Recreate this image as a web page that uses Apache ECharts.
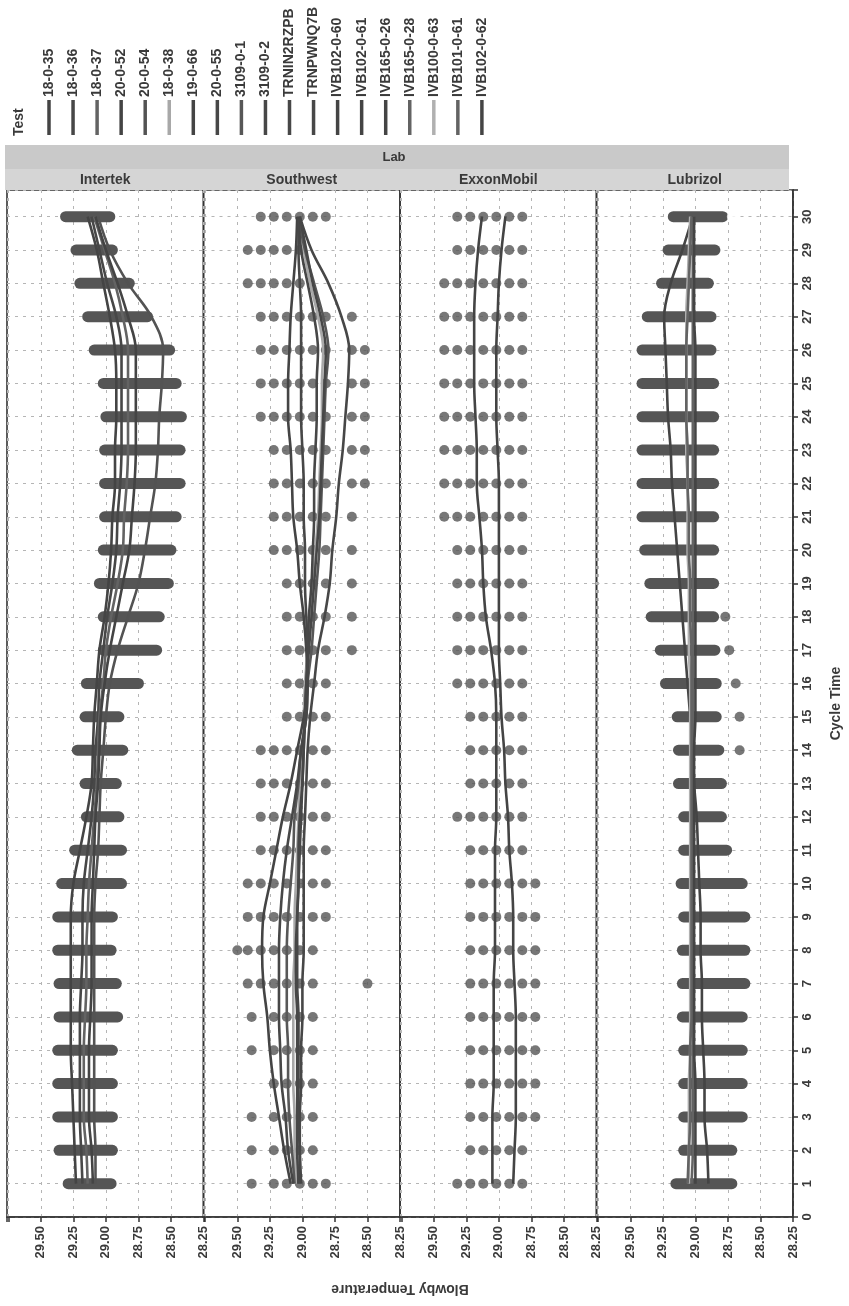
<!DOCTYPE html>
<html><head><meta charset="utf-8">
<script src="https://cdn.jsdelivr.net/npm/echarts@6/dist/echarts.min.js"></script>
<style>html,body{margin:0;padding:0;background:#fff}#c{width:849px;height:1306px}</style>
</head><body><div id="c"></div>
<script>
// ---------------- DATA ----------------
const labs = ['Intertek', 'Southwest', 'ExxonMobil', 'Lubrizol'];
const cycles = [1,2,3,4,5,6,7,8,9,10,11,12,13,14,15,16,17,18,19,20,21,22,23,24,25,26,27,28,29,30];
const tempTicks = [28.25, 28.50, 28.75, 29.00, 29.25, 29.50];
const tests = ['18-0-35','18-0-36','18-0-37','20-0-52','20-0-54','18-0-38','19-0-66','20-0-55','3109-0-1','3109-0-2','TRNIN2RZPB','TRNPWNQ7B','IVB102-0-60','IVB102-0-61','IVB165-0-26','IVB165-0-28','IVB100-0-63','IVB101-0-61','IVB102-0-62'];
const testLab = ['Intertek','Intertek','Intertek','Intertek','Intertek','Southwest','Southwest','Southwest','Southwest','Southwest','Southwest','Southwest','ExxonMobil','ExxonMobil','Lubrizol','Lubrizol','Lubrizol','Lubrizol','Lubrizol'];

// Intertek: dense point spread per cycle (highest / lowest reading)
const intertekHi = [29.29,29.36,29.37,29.37,29.37,29.36,29.36,29.37,29.37,29.34,29.24,29.15,29.16,29.22,29.16,29.15,29.02,29.02,29.05,29.02,29.01,29.01,29.01,29.00,29.02,29.09,29.14,29.20,29.23,29.31];
const intertekLo = [28.96,28.95,28.95,28.95,28.95,28.91,28.92,28.96,28.95,28.88,28.88,28.90,28.92,28.87,28.90,28.75,28.61,28.59,28.52,28.50,28.46,28.43,28.43,28.42,28.46,28.51,28.68,28.82,28.95,28.97];
// Lubrizol: dense point spread per cycle
const lubrizolHi = [29.15,29.09,29.09,29.09,29.09,29.10,29.10,29.10,29.09,29.11,29.09,29.09,29.13,29.13,29.14,29.23,29.27,29.34,29.35,29.39,29.41,29.41,29.41,29.41,29.41,29.41,29.37,29.26,29.21,29.17];
const lubrizolLo = [28.72,28.72,28.64,28.64,28.64,28.64,28.62,28.62,28.62,28.64,28.76,28.80,28.80,28.82,28.84,28.84,28.85,28.86,28.86,28.86,28.86,28.86,28.86,28.86,28.86,28.88,28.88,28.90,28.85,28.79];
const lubrizolExtraCycle = [14,15,16,17,18];
const lubrizolExtraTemp = [28.66,28.66,28.69,28.74,28.77];
const lubrizolOpenCycle = [30];
const lubrizolOpenTemp = [28.72];
const southwestOpenCycle = [15];
const southwestOpenTemp = [29.22];

// Southwest individual readings per cycle (cycle 1 .. 30)
const southwestDots = [
 [29.39,29.22,29.12,29.02,28.92,28.82],
 [29.39,29.22,29.12,29.02,28.92],
 [29.39,29.22,29.12,29.02,28.92],
 [29.22,29.12,29.02,28.92],
 [29.39,29.22,29.12,29.02,28.92],
 [29.39,29.22,29.12,29.02,28.92],
 [29.42,29.32,29.22,29.12,29.02,28.92,28.50],
 [29.50,29.42,29.32,29.22,29.12,29.02,28.92],
 [29.42,29.32,29.22,29.12,29.02,28.92,28.82],
 [29.42,29.32,29.22,29.12,29.02,28.92,28.82],
 [29.32,29.22,29.12,29.02,28.92,28.82],
 [29.32,29.22,29.12,29.02,28.92,28.82],
 [29.32,29.22,29.12,29.02,28.92,28.82],
 [29.32,29.22,29.12,29.02,28.92,28.82],
 [29.12,29.02,28.92,28.82],
 [29.12,29.02,28.92,28.82],
 [29.12,29.02,28.92,28.82,28.62],
 [29.12,29.02,28.92,28.82,28.62],
 [29.12,29.02,28.92,28.82,28.62],
 [29.22,29.12,29.02,28.92,28.82,28.62],
 [29.22,29.12,29.02,28.92,28.82,28.62],
 [29.22,29.12,29.02,28.92,28.82,28.62,28.52],
 [29.22,29.12,29.02,28.92,28.82,28.62,28.52],
 [29.32,29.22,29.12,29.02,28.92,28.82,28.62,28.52],
 [29.32,29.22,29.12,29.02,28.92,28.82,28.62,28.52],
 [29.32,29.22,29.12,29.02,28.92,28.82,28.62,28.52],
 [29.32,29.22,29.12,29.02,28.92,28.82,28.62],
 [29.42,29.32,29.22,29.12,29.02],
 [29.42,29.32,29.22,29.12,29.02],
 [29.32,29.22,29.12,29.02,28.92,28.82]
];
// ExxonMobil individual readings per cycle (cycle 1 .. 30)
const exxonDots = [
 [29.32,29.22,29.12,29.02,28.92,28.82],
 [29.22,29.12,29.02,28.92,28.82],
 [29.22,29.12,29.02,28.92,28.82,28.72],
 [29.22,29.12,29.02,28.92,28.82,28.72],
 [29.22,29.12,29.02,28.92,28.82,28.72],
 [29.22,29.12,29.02,28.92,28.82,28.72],
 [29.22,29.12,29.02,28.92,28.82,28.72],
 [29.22,29.12,29.02,28.92,28.82,28.72],
 [29.22,29.12,29.02,28.92,28.82,28.72],
 [29.22,29.12,29.02,28.92,28.82,28.72],
 [29.22,29.12,29.02,28.92,28.82],
 [29.32,29.22,29.12,29.02,28.92,28.82],
 [29.22,29.12,29.02,28.92,28.82],
 [29.22,29.12,29.02,28.92,28.82],
 [29.22,29.12,29.02,28.92,28.82],
 [29.32,29.22,29.12,29.02,28.92,28.82],
 [29.32,29.22,29.12,29.02,28.92,28.82],
 [29.32,29.22,29.12,29.02,28.92,28.82],
 [29.32,29.22,29.12,29.02,28.92,28.82],
 [29.32,29.22,29.12,29.02,28.92,28.82],
 [29.42,29.32,29.22,29.12,29.02,28.92,28.82],
 [29.42,29.32,29.22,29.12,29.02,28.92,28.82],
 [29.42,29.32,29.22,29.12,29.02,28.92,28.82],
 [29.42,29.32,29.22,29.12,29.02,28.92,28.82],
 [29.42,29.32,29.22,29.12,29.02,28.92,28.82],
 [29.42,29.32,29.22,29.12,29.02,28.92,28.82],
 [29.42,29.32,29.22,29.12,29.02,28.92,28.82],
 [29.42,29.32,29.22,29.12,29.02,28.92,28.82],
 [29.32,29.22,29.12,29.02,28.92,28.82],
 [29.32,29.22,29.12,29.02,28.92,28.82]
];

// Per-test mean curves (cycle 1 .. 30)
const t_18_0_35 = [29.23,29.24,29.25,29.26,29.27,29.27,29.27,29.27,29.27,29.25,29.20,29.15,29.11,29.10,29.09,29.07,29.05,29.01,28.98,28.96,28.95,28.93,28.93,28.92,28.92,28.93,28.97,29.02,29.07,29.14];
const t_18_0_36 = [29.18,29.19,29.20,29.20,29.20,29.20,29.19,29.18,29.18,29.17,29.14,29.11,29.09,29.08,29.06,29.05,29.02,28.99,28.95,28.92,28.91,28.89,28.88,28.88,28.88,28.88,28.92,28.99,29.05,29.11];
const t_18_0_37 = [29.14,29.15,29.17,29.17,29.17,29.16,29.15,29.15,29.14,29.13,29.11,29.09,29.07,29.06,29.05,29.02,29.00,28.96,28.91,28.87,28.86,28.84,28.83,28.83,28.83,28.83,28.87,28.93,29.01,29.09];
const t_20_0_52 = [29.10,29.11,29.13,29.13,29.13,29.12,29.11,29.11,29.11,29.10,29.09,29.08,29.06,29.05,29.04,29.01,28.97,28.92,28.87,28.82,28.80,28.78,28.77,28.77,28.77,28.77,28.83,28.91,29.00,29.08];
const t_20_0_54 = [29.08,29.08,29.09,29.09,29.09,29.09,29.09,29.09,29.09,29.08,29.06,29.05,29.04,29.02,29.00,28.97,28.91,28.83,28.75,28.70,28.66,28.62,28.60,28.59,28.57,28.56,28.65,28.83,28.97,29.06];
const t_18_0_38 = [29.05,29.06,29.06,29.07,29.07,29.07,29.07,29.06,29.06,29.05,29.04,29.03,29.02,29.00,28.99,28.98,28.96,28.94,28.92,28.90,28.88,28.87,28.86,28.85,28.85,28.84,28.88,28.94,28.99,29.03];
const t_19_0_66 = [29.09,29.14,29.18,29.22,29.25,29.27,29.30,29.31,29.30,29.25,29.20,29.15,29.09,29.04,28.99,28.96,28.97,28.99,29.02,29.04,29.07,29.08,29.09,29.11,29.11,29.10,29.09,29.07,29.05,29.04];
const t_20_0_55 = [29.03,29.02,29.02,29.01,29.01,29.00,29.00,28.99,28.99,28.99,28.99,28.98,28.97,28.96,28.94,28.91,28.88,28.83,28.79,28.77,28.74,28.72,28.69,28.67,28.65,28.64,28.70,28.80,28.93,29.02];
const t_3109_0_1 = [29.06,29.08,29.10,29.11,29.11,29.12,29.12,29.12,29.11,29.09,29.07,29.06,29.03,29.01,28.97,28.96,28.93,28.91,28.89,28.87,28.86,28.85,28.84,28.83,28.82,28.80,28.84,28.91,28.98,29.03];
const t_3109_0_2 = [29.03,29.04,29.04,29.04,29.04,29.04,29.05,29.05,29.04,29.03,29.03,29.02,29.00,28.99,28.98,28.97,28.96,28.95,28.93,28.92,28.91,28.91,28.90,28.89,28.89,28.88,28.91,28.96,29.01,29.03];
const t_TRNIN2RZPB = [29.07,29.11,29.13,29.16,29.17,29.18,29.18,29.18,29.17,29.15,29.12,29.08,29.04,29.01,28.97,28.96,28.96,28.97,28.98,28.98,28.99,28.99,29.00,29.01,29.01,29.01,29.01,29.02,29.03,29.03];
const t_TRNPWNQ7B = [29.01,29.02,29.03,29.03,29.03,29.03,29.04,29.04,29.04,29.03,29.02,29.01,29.00,28.99,28.98,28.97,28.95,28.93,28.91,28.89,28.87,28.86,28.85,28.84,28.83,28.82,28.86,28.92,28.97,29.02];
const t_IVB102_0_60 = [29.05,29.05,29.05,29.04,29.04,29.04,29.04,29.03,29.03,29.03,29.03,29.02,29.02,29.02,29.02,29.03,29.06,29.10,29.12,29.13,29.15,29.17,29.17,29.18,29.19,29.19,29.19,29.18,29.16,29.13];
const t_IVB102_0_61 = [28.89,28.88,28.87,28.87,28.87,28.87,28.88,28.89,28.89,28.90,28.92,28.93,28.95,28.96,28.98,28.99,29.00,29.00,29.00,29.00,29.00,29.00,29.01,29.02,29.02,29.02,29.01,29.00,28.98,28.95];
const t_IVB165_0_26 = [28.90,28.91,28.93,28.93,28.94,28.95,28.95,28.96,28.96,28.97,28.98,28.99,29.01,29.02,29.04,29.06,29.08,29.10,29.12,29.14,29.16,29.18,29.19,29.21,29.22,29.23,29.24,29.19,29.10,29.02];
const t_IVB165_0_28 = [29.03,29.02,29.02,29.02,29.02,29.02,29.02,29.02,29.02,29.02,29.02,29.02,29.02,29.02,29.02,29.02,29.02,29.02,29.02,29.02,29.02,29.02,29.02,29.02,29.02,29.02,29.02,29.02,29.02,29.02];
const t_IVB100_0_63 = [29.05,29.05,29.05,29.05,29.04,29.04,29.04,29.04,29.04,29.04,29.04,29.04,29.04,29.04,29.04,29.04,29.05,29.05,29.05,29.06,29.06,29.06,29.07,29.07,29.07,29.07,29.07,29.06,29.05,29.04];
const t_IVB101_0_61 = [29.06,29.05,29.04,29.04,29.04,29.03,29.03,29.03,29.03,29.03,29.03,29.03,29.03,29.03,29.03,29.03,29.03,29.04,29.04,29.05,29.05,29.06,29.06,29.07,29.07,29.07,29.06,29.05,29.04,29.03];
const t_IVB102_0_62 = [29.00,29.00,29.00,29.00,29.01,29.01,29.01,29.01,29.01,29.01,29.01,29.01,29.01,29.01,29.00,29.00,29.00,29.00,29.00,29.00,29.00,29.00,29.00,29.00,29.00,29.00,29.01,29.01,29.01,29.01];
const testCurves = [t_18_0_35,t_18_0_36,t_18_0_37,t_20_0_52,t_20_0_54,t_18_0_38,t_19_0_66,t_20_0_55,t_3109_0_1,t_3109_0_2,t_TRNIN2RZPB,t_TRNPWNQ7B,t_IVB102_0_60,t_IVB102_0_61,t_IVB165_0_26,t_IVB165_0_28,t_IVB100_0_63,t_IVB101_0_61,t_IVB102_0_62];

// ---------------- STYLE / LAYOUT ----------------
const lineColors = ['#444444','#474747','#636363','#444444','#535353','#a8a8a8','#444444','#474747','#575757','#474747','#474747','#474747','#444444','#444444','#444444','#636363','#b0b0b0','#636363','#444444'];
const FONT = '"Liberation Sans", Arial, sans-serif';
const TXT = '#3a3a3a';
const DOT = '#555555';
const GRID_TOP = 190, GRID_H = 1027, PANEL_W = 196.5, PANEL_L0 = 7;
const T_MIN = 28.25, T_MAX = 29.76;

const chart = echarts.init(document.getElementById('c'), null, {renderer: 'canvas'});

const tickLabel = v => (tempTicks.some(t => Math.abs(t - v) < 1e-6) ? v.toFixed(2) : '');

const grids = [], xAxes = [], yAxes = [], series = [];
labs.forEach((lab, i) => {
  grids.push({left: PANEL_L0 + i * PANEL_W, top: GRID_TOP, width: PANEL_W, height: GRID_H,
    show: true, borderColor: '#333', borderWidth: 1.6, backgroundColor: 'transparent'});
  xAxes.push({gridIndex: i, type: 'value', min: T_MIN, max: T_MAX, interval: 0.25, inverse: true,
    axisLine: {show: true, lineStyle: {color: '#333', width: 1.6}},
    axisTick: {show: true, length: 5, lineStyle: {color: '#333', width: 1.5}},
    axisLabel: {rotate: 90, margin: 9, color: TXT, fontFamily: FONT, fontWeight: 'bold', fontSize: 13,
      formatter: tickLabel},
    splitLine: {show: true, lineStyle: {color: '#b5b5b5', type: [3, 5], width: 1}}});
  const last = i === labs.length - 1;
  yAxes.push({gridIndex: i, type: 'value', min: 0, max: 30.8, interval: 1, position: 'right',
    name: last ? 'Cycle Time' : '', nameLocation: 'middle', nameRotate: 90, nameGap: 36,
    nameTextStyle: {color: TXT, fontFamily: FONT, fontWeight: 'bold', fontSize: 14},
    axisLine: {show: last, lineStyle: {color: '#333', width: 1.6}},
    axisTick: {show: last, length: 5, lineStyle: {color: '#333', width: 1.5}},
    axisLabel: {show: last, rotate: 90, margin: 8, color: TXT, fontFamily: FONT, fontWeight: 'bold', fontSize: 13,
      formatter: v => (Number.isInteger(v) ? String(v) : '')},
    splitLine: {show: true, lineStyle: {color: '#b5b5b5', type: [3, 5], width: 1}}});
});

function rangeSeries(idx, hi, lo) {
  return {type: 'custom', xAxisIndex: idx, yAxisIndex: idx, z: 2,
    data: hi.map((h, k) => [h, lo[k], cycles[k]]),
    encode: {x: [0, 1], y: 2},
    renderItem: (params, api) => {
      const a = api.coord([api.value(0), api.value(2)]);
      const b = api.coord([api.value(1), api.value(2)]);
      return {type: 'line', shape: {x1: a[0], y1: a[1], x2: b[0], y2: b[1]},
        style: {stroke: DOT, lineWidth: 11, lineCap: 'round'}};
    }};
}
function dotSeries(idx, rows) {
  const pts = [];
  rows.forEach((r, k) => r.forEach(t => pts.push([t, cycles[k]])));
  return {type: 'scatter', xAxisIndex: idx, yAxisIndex: idx, z: 2, symbolSize: 10,
    itemStyle: {color: DOT}, data: pts, silent: true};
}
function markSeries(idx, temps, cyc, filled) {
  return {type: 'scatter', xAxisIndex: idx, yAxisIndex: idx, z: 2, symbolSize: filled ? 10 : 8,
    symbol: filled ? 'circle' : 'emptyCircle',
    itemStyle: filled ? {color: DOT} : {color: '#fff', borderColor: DOT, borderWidth: 2},
    data: temps.map((t, k) => [t, cyc[k]]), silent: true};
}

series.push(rangeSeries(0, intertekHi, intertekLo));
series.push(dotSeries(1, southwestDots));
series.push(markSeries(1, southwestOpenTemp, southwestOpenCycle, false));
series.push(dotSeries(2, exxonDots));
series.push(rangeSeries(3, lubrizolHi, lubrizolLo));
series.push(markSeries(3, lubrizolExtraTemp, lubrizolExtraCycle, true));
series.push(markSeries(3, lubrizolOpenTemp, lubrizolOpenCycle, false));

tests.forEach((name, j) => {
  const idx = labs.indexOf(testLab[j]);
  series.push({type: 'line', name: name, xAxisIndex: idx, yAxisIndex: idx, z: 4,
    data: testCurves[j].map((t, k) => [t, cycles[k]]),
    symbol: 'none', smooth: 0.35, silent: true,
    lineStyle: {color: lineColors[j], width: 2.6}});
});

// graphics: header strip, legend, axis title
const graphics = [];
const stripL = PANEL_L0 - 2, stripR = PANEL_L0 + 4 * PANEL_W - 4;
graphics.push({type: 'rect', shape: {x: stripL, y: 145, width: stripR - stripL, height: 45}, style: {fill: '#c9c9c9'}, z: 1});
graphics.push({type: 'rect', shape: {x: stripL, y: 169, width: stripR - stripL, height: 21}, style: {fill: '#d5d5d5'}, z: 1});
graphics.push({type: 'text', x: (PANEL_L0 + PANEL_L0 + 4 * PANEL_W) / 2 - 6, y: 157, z: 2,
  style: {text: 'Lab', fill: TXT, font: 'bold 13px ' + FONT, align: 'center', verticalAlign: 'middle', textAlign: 'center', textVerticalAlign: 'middle'}});
labs.forEach((lab, i) => {
  graphics.push({type: 'text', x: PANEL_L0 + i * PANEL_W + PANEL_W / 2, y: 180, z: 2,
    style: {text: lab, fill: TXT, font: 'bold 14px ' + FONT, align: 'center', verticalAlign: 'middle', textAlign: 'center', textVerticalAlign: 'middle'}});
});
// legend (rotated)
graphics.push({type: 'text', x: 19, y: 136, rotation: Math.PI / 2, z: 2,
  style: {text: 'Test', fill: TXT, font: 'bold 14px ' + FONT, align: 'left', verticalAlign: 'middle', textAlign: 'left', textVerticalAlign: 'middle'}});
tests.forEach((name, j) => {
  const x = 49 + j * 24.05;
  graphics.push({type: 'line', shape: {x1: x, y1: 135, x2: x, y2: 100}, z: 2,
    style: {stroke: lineColors[j], lineWidth: 3.5}});
  graphics.push({type: 'text', x: x, y: 97, rotation: Math.PI / 2, z: 2,
    style: {text: name, fill: TXT, font: 'bold 14px ' + FONT, align: 'left', verticalAlign: 'middle', textAlign: 'left', textVerticalAlign: 'middle'}});
});
// y-title (upside down as in the source)
graphics.push({type: 'text', x: 400, y: 1289, rotation: Math.PI, z: 2,
  style: {text: 'Blowby Temperature', fill: TXT, font: 'bold 14px ' + FONT, align: 'center', verticalAlign: 'middle', textAlign: 'center', textVerticalAlign: 'middle'}});

chart.setOption({
  backgroundColor: '#ffffff',
  animation: false,
  grid: grids, xAxis: xAxes, yAxis: yAxes, series: series,
  graphic: graphics
});
</script>
</body></html>
